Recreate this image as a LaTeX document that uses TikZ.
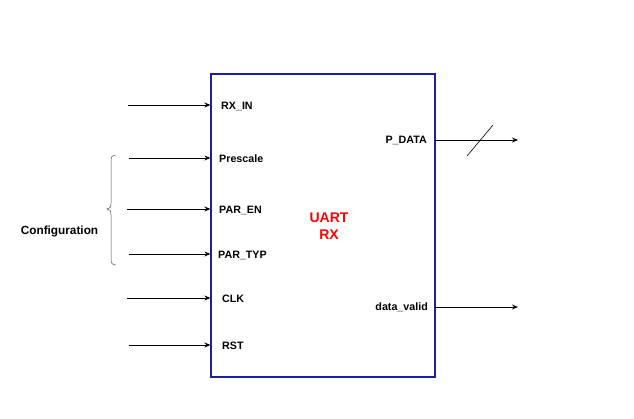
\documentclass[tikz,border=0pt]{standalone}
\usepackage{fontspec}
\setmainfont{Liberation Sans}
\usetikzlibrary{arrows.meta}
\definecolor{boxblue}{RGB}{30,30,160}
\definecolor{uartred}{RGB}{255,0,0}
\begin{document}
\begin{tikzpicture}[x=1pt,y=-1pt,
  sig/.style={draw=black,line width=0.8pt,-{Stealth[length=6pt,width=5pt]}},
  lbl/.style={font=\fontsize{10.7}{12}\selectfont\bfseries,inner sep=0pt},
  blk/.style={draw=boxblue,line width=1.2pt,minimum width=224pt,minimum height=303pt,inner sep=0pt}]
\useasboundingbox (0,0) rectangle (634,418);
\node[blk] (rx) at (323,225.5) {};
\node[font=\fontsize{14}{17}\selectfont\bfseries,text=uartred,align=center] (title) at (329,226) {UART\\RX};
% inputs
\coordinate (i1) at (128,105);
\coordinate (i2) at (129,158);
\coordinate (i3) at (127,209);
\coordinate (i4) at (129,254);
\coordinate (i5) at (127,298);
\coordinate (i6) at (129,345);
\coordinate (e1) at (rx.west |- i1);
\coordinate (e2) at (rx.west |- i2);
\coordinate (e3) at (rx.west |- i3);
\coordinate (e4) at (rx.west |- i4);
\coordinate (e5) at (rx.west |- i5);
\coordinate (e6) at (rx.west |- i6);
\draw[sig] (i1) -- (e1);
\draw[sig] (i2) -- (e2);
\draw[sig] (i3) -- (e3);
\draw[sig] (i4) -- (e4);
\draw[sig] (i5) -- (e5);
\draw[sig] (i6) -- (e6);
\node[lbl,anchor=west] (l1) at (221,106) {RX\_IN};
\node[lbl,anchor=west] (l2) at (219,159) {Prescale};
\node[lbl,anchor=west] (l3) at (219,210) {PAR\_EN};
\node[lbl,anchor=west] (l4) at (218,255) {PAR\_TYP};
\node[lbl,anchor=west] (l5) at (222,299) {CLK};
\node[lbl,anchor=west] (l6) at (222,346) {RST};
% outputs
\coordinate (o1s) at (rx.east |- 0,140);
\coordinate (o2s) at (rx.east |- 0,307);
\coordinate (o1) at (518,140);
\coordinate (o2) at (518,307);
\draw[sig] (o1s) -- (o1);
\draw[sig] (o2s) -- (o2);
\coordinate (s1) at (467,156);
\coordinate (s2) at (493,125);
\draw[line width=0.6pt] (s1) -- (s2);
\node[lbl,anchor=east] (p1) at (427,140) {P\_DATA};
\node[lbl,anchor=east] (p2) at (428,307) {data\_valid};
% brace
\draw[line width=0.5pt,draw=black!70] (116,155) .. controls (112,155) and (111,157) .. (111,161)
  -- (111,203) .. controls (111,207) and (110,209) .. (107,209)
  .. controls (110,209) and (111,211) .. (111,215)
  -- (111,259) .. controls (111,263) and (112,265) .. (116,265);
\node[font=\fontsize{11.8}{13}\selectfont\bfseries,inner sep=0pt,anchor=center] (cfg) at (59.5,231) {Configuration};
\end{tikzpicture}
\end{document}
